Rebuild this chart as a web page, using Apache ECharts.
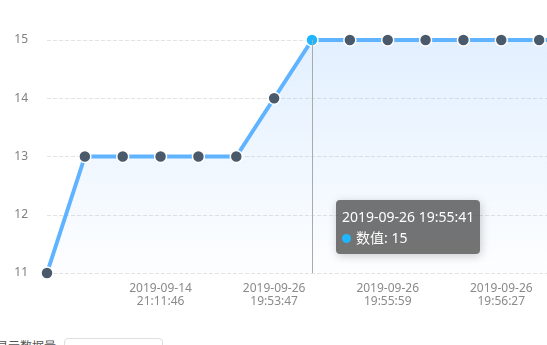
<!DOCTYPE html>
<html><head><meta charset="utf-8">
<script src="https://cdn.jsdelivr.net/npm/echarts@6/dist/echarts.min.js"></script>
<style>
html,body{margin:0;padding:0;width:547px;height:345px;overflow:hidden;background:#fff;font-family:"Noto Sans","Noto Sans CJK SC",sans-serif;}
#c{position:absolute;left:0;top:0;width:600px;height:330px;}
#ctl{position:absolute;left:-4px;top:337px;font-size:12px;color:#555;font-family:"Noto Sans CJK SC",sans-serif;white-space:nowrap;}
#ctl input{position:absolute;left:68px;top:1px;width:99px;height:28px;border:1px solid #dcdee2;border-radius:4px;box-sizing:border-box;}
</style></head>
<body>
<div id="c"></div>
<div id="ctl"><span style="position:absolute;left:0;top:0px;">显示数据量</span><input type="text"></div>
<script>
var categories = [
  "2019-09-14 21:10:58","2019-09-14 21:11:14","2019-09-14 21:11:30","2019-09-14 21:11:46",
  "2019-09-14 21:12:03","2019-09-26 19:53:21","2019-09-26 19:53:47","2019-09-26 19:55:41",
  "2019-09-26 19:55:50","2019-09-26 19:55:59","2019-09-26 19:56:08","2019-09-26 19:56:18",
  "2019-09-26 19:56:27","2019-09-26 19:56:36","2019-09-26 19:56:45"
];
var values = [11,13,13,13,13,13,14,15,15,15,15,15,15,15,15];
var yTicks = [11,12,13,14,15];
var seriesName = "数值";

var FONT = '"Noto Sans","Noto Sans CJK SC",sans-serif';
var chart = echarts.init(document.getElementById('c'));
chart.setOption({
  animation:false,
  textStyle:{fontFamily:FONT},
  grid:{left:47,right:23,top:40,bottom:57},
  tooltip:{
    trigger:'axis',
    backgroundColor:'rgba(70,70,70,0.75)',
    borderWidth:0,
    padding:[6,6],
    textStyle:{color:'#fff',fontSize:14,fontFamily:FONT},
    axisPointer:{type:'line',lineStyle:{color:'#aaa',width:1,type:'solid'}},
    position:function(){return [336,200];},
    formatter:function(p){
      var d=p[0];
      return '<div style="line-height:21px">'+d.name+'<br/><span style="display:inline-block;width:9px;height:9px;border-radius:5px;background:#1fb6ff;margin-right:5px;"></span>'+seriesName+': '+d.value+'</div>';
    }
  },
  xAxis:{
    type:'category',boundaryGap:false,data:categories,
    axisLine:{show:false},axisTick:{show:false},
    axisLabel:{color:'#8a8a8a',fontSize:12,lineHeight:13,margin:9,fontFamily:FONT,
      interval:function(i){return i%3===0 && i>0;},
      formatter:function(v){return v.replace(' ','\n');}}
  },
  yAxis:{
    type:'value',min:yTicks[0],max:yTicks[yTicks.length-1],interval:1,
    axisLine:{show:false},axisTick:{show:false},
    axisLabel:{color:'#808080',fontSize:12,margin:19,fontFamily:FONT},
    splitLine:{lineStyle:{color:'#e3e3e3',type:'dashed'}}
  },
  series:[{
    name:seriesName,type:'line',data:values,
    symbol:'circle',symbolSize:12,
    lineStyle:{color:'#58a3f7',width:4},
    itemStyle:{color:'#4a5a6a',borderColor:'#fff',borderWidth:1.5},
    emphasis:{scale:false,itemStyle:{color:'#1fb6ff',borderColor:'#fff',borderWidth:1.5}},
    areaStyle:{color:new echarts.graphic.LinearGradient(0,0,0,1,[
      {offset:0,color:'rgba(88,155,246,0.26)'},{offset:1,color:'rgba(88,155,246,0.02)'}])}
  }]
});
chart.dispatchAction({type:'showTip',seriesIndex:0,dataIndex:7});
chart.dispatchAction({type:'highlight',seriesIndex:0,dataIndex:7});
</script>
</body></html>
